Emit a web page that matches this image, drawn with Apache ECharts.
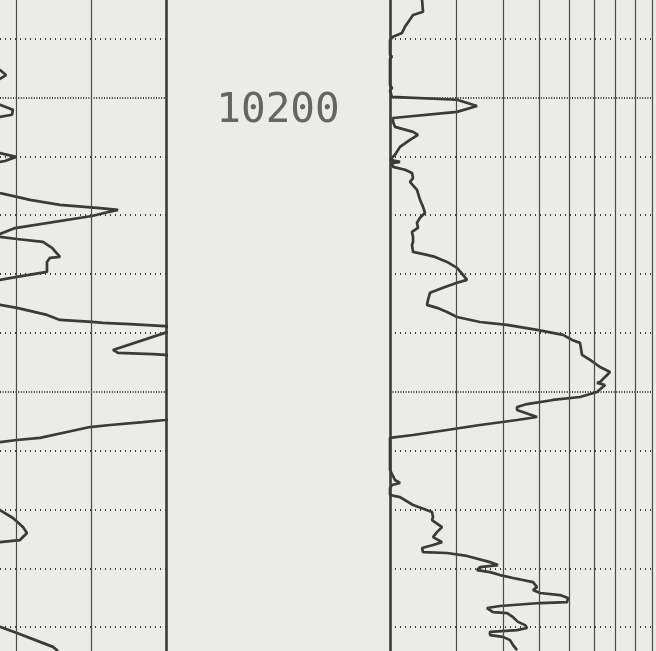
<!DOCTYPE html>
<html>
<head>
<meta charset="utf-8">
<script src="https://cdn.jsdelivr.net/npm/echarts@6/dist/echarts.min.js"></script>
<style>
  html, body { margin: 0; padding: 0; background: #ebebe8; }
  #chart { width: 656px; height: 651px; }
</style>
</head>
<body>
<div id="chart"></div>
<script>
// depth window shown (ft) and depth grid lines
const depthTop = 10196.69;
const depthBottom = 10218.81;
const lightDepths = [10198, 10202, 10204, 10206, 10208, 10212, 10214, 10216, 10218];
const heavyDepths = [10200, 10210];
const depthLabels = [10200];

// left track (linear scale, window 38.84-150) curve
const leftMin = 38.84;
const leftMax = 150;
const leftLines = [50, 100];
const leftDepth = [10196.69, 10198.93, 10199.07, 10199.24, 10199.37, 10199.54, 10200.08, 10200.25, 10200.42, 10200.59,
  10200.66, 10200.80, 10201.72, 10201.89, 10202.02, 10202.16, 10202.26, 10203.08, 10203.25, 10203.38,
  10203.48, 10203.65, 10203.76, 10203.82, 10203.92, 10204.03, 10204.44, 10204.64, 10204.69, 10204.74,
  10204.81, 10204.91, 10205.11, 10205.42, 10205.45, 10205.59, 10205.93, 10206.10, 10206.20, 10206.34,
  10206.88, 10207.05, 10207.15, 10207.39, 10207.56, 10207.63, 10207.66, 10207.70, 10207.77, 10207.87,
  10208.00, 10208.58, 10208.68, 10208.72, 10208.75, 10208.85, 10210.89, 10210.96, 10211.03, 10211.13,
  10211.20, 10211.37, 10211.57, 10211.64, 10211.71, 10211.84, 10213.85, 10214.02, 10214.29, 10214.60,
  10214.80, 10215.04, 10215.11, 10215.24, 10217.82, 10217.99, 10218.20, 10218.50, 10218.67, 10218.81];
const leftValue = [22.1, 32.1, 38.8, 42.9, 38.8, 28.8, 32.1, 38.8, 47.5, 46.9,
  38.8, 28.8, 32.1, 38.8, 49.6, 42.2, 32.1, 28.8, 38.8, 50.2,
  58.9, 79.0, 105.8, 117.9, 109.2, 100.4, 48.9, 38.8, 35.6, 38.8,
  50.2, 67.6, 73.7, 79.0, 72.3, 70.3, 70.3, 50.2, 38.8, 28.8,
  32.1, 38.8, 50.2, 70.3, 79.0, 100.4, 107.8, 125.9, 149.3, 159.4,
  149.3, 114.5, 117.9, 141.3, 149.3, 159.4, 159.4, 149.3, 134.6, 112.5,
  99.1, 83.7, 65.6, 50.2, 38.8, 28.8, 32.1, 38.8, 47.5, 54.2,
  56.9, 52.2, 38.8, 28.8, 32.1, 38.8, 50.2, 65.6, 74.3, 77.7];

// right track (log, 2-10) curve
const rightDepth = [10196.69, 10197.09, 10197.20, 10197.60, 10197.81, 10197.94, 10198.05, 10198.56, 10198.62, 10198.69,
  10199.57, 10199.68, 10199.78, 10199.98, 10200.08, 10200.29, 10200.49, 10200.70, 10200.76, 10200.83,
  10201.00, 10201.17, 10201.27, 10201.44, 10201.68, 10201.95, 10202.12, 10202.19, 10202.23, 10202.36,
  10202.46, 10202.57, 10202.74, 10202.87, 10203.14, 10203.48, 10203.72, 10203.92, 10204.09, 10204.26,
  10204.43, 10204.57, 10204.74, 10204.91, 10205.01, 10205.25, 10205.35, 10205.42, 10205.59, 10205.79,
  10206.03, 10206.20, 10206.30, 10206.47, 10206.64, 10206.88, 10207.05, 10207.15, 10207.29, 10207.46,
  10207.63, 10207.73, 10207.90, 10208.07, 10208.24, 10208.34, 10208.75, 10208.92, 10209.16, 10209.33,
  10209.67, 10209.70, 10209.77, 10210.01, 10210.18, 10210.28, 10210.42, 10210.52, 10210.62, 10210.86,
  10210.96, 10211.13, 10211.30, 10211.47, 10211.57, 10211.64, 10212.66, 10213.00, 10213.10, 10213.17,
  10213.27, 10213.51, 10213.58, 10213.85, 10214.09, 10214.26, 10214.36, 10214.60, 10214.77, 10214.94,
  10215.11, 10215.21, 10215.31, 10215.45, 10215.48, 10215.58, 10215.79, 10215.89, 10215.96, 10216.06,
  10216.13, 10216.23, 10216.33, 10216.47, 10216.64, 10216.74, 10216.84, 10216.91, 10217.01, 10217.15,
  10217.18, 10217.28, 10217.35, 10217.49, 10217.52, 10217.66, 10217.82, 10217.93, 10218.03, 10218.10,
  10218.16, 10218.27, 10218.33, 10218.44, 10218.61, 10218.78];
const rightValue = [2.435, 2.450, 2.304, 2.193, 2.153, 2.037, 2.000, 2.000, 2.025, 2.000,
  2.000, 2.025, 2.000, 2.025, 3.019, 3.413, 3.019, 2.037, 2.025, 2.037,
  2.062, 2.304, 2.375, 2.261, 2.127, 2.062, 2.000, 2.127, 2.025, 2.037,
  2.193, 2.289, 2.304, 2.261, 2.361, 2.405, 2.450, 2.480, 2.405, 2.361,
  2.375, 2.289, 2.304, 2.304, 2.289, 2.304, 2.510, 2.637, 2.839, 3.019,
  3.132, 3.210, 3.019, 2.770, 2.557, 2.526, 2.510, 2.669, 2.839, 3.019,
  3.477, 4.105, 4.935, 5.790, 6.119, 6.427, 6.507, 6.834, 7.268, 7.727,
  7.268, 7.135, 7.494, 7.135, 6.427, 5.444, 4.641, 4.365, 4.365, 4.935,
  4.365, 3.477, 2.839, 2.304, 2.000, 2.000, 2.000, 2.062, 2.127, 2.025,
  2.000, 2.000, 2.127, 2.304, 2.589, 2.605, 2.589, 2.753, 2.669, 2.605,
  2.753, 2.605, 2.435, 2.450, 2.839, 3.210, 3.697, 3.883, 3.477, 3.413,
  3.697, 3.932, 4.259, 4.815, 4.935, 4.815, 5.027, 5.684, 5.970, 5.934,
  5.027, 3.932, 3.629, 3.766, 4.105, 4.259, 4.392, 4.584, 4.641, 4.365,
  3.697, 3.697, 4.005, 4.181, 4.259, 4.365];
const logLines = [3, 4, 5, 6, 7, 8, 9, 10];

const ink = '#3a3a36';
const gridInk = '#4a4a46';

function zip(xs, ys) {
  return xs.map((x, i) => [x, ys[i]]);
}

function depthMarks() {
  let data = lightDepths.map(d => ({ yAxis: d }));
  heavyDepths.forEach(d => {
    data.push({ yAxis: d, lineStyle: { type: [1, 1.6], width: 2, color: '#3a3a36' } });
  });
  return data;
}

function verticalMarks(values) {
  return values.map(v => ({
    xAxis: v, lineStyle: { type: 'solid', width: 1.2, color: gridInk }
  }));
}

const chart = echarts.init(document.getElementById('chart'));

const depthAxis = {
  type: 'value',
  inverse: true,
  min: depthTop,
  max: depthBottom,
  axisLabel: { show: false },
  axisTick: { show: false },
  splitLine: { show: false }
};

const hiddenX = {
  axisLine: { show: false }, axisTick: { show: false }, axisLabel: { show: false },
  splitLine: { show: false }
};

let option = {
  backgroundColor: '#ebebe8',
  animation: false,
  grid: [
    { left: 0, right: 490, top: 0, bottom: 0 },
    { left: 166, right: 266, top: 0, bottom: 0 },
    { left: 390, right: 4, top: 0, bottom: 0 }
  ],
  xAxis: [
    Object.assign({ gridIndex: 0, type: 'value', min: leftMin, max: leftMax }, hiddenX),
    { gridIndex: 1, type: 'value', min: 0, max: 1, show: false },
    Object.assign({ gridIndex: 2, type: 'log', logBase: 10, min: 2, max: 10 }, hiddenX)
  ],
  yAxis: [
    Object.assign({ gridIndex: 0, position: 'right',
      axisLine: { show: true, lineStyle: { color: ink, width: 2.6 } } }, depthAxis),
    Object.assign({ gridIndex: 1, show: false }, depthAxis),
    Object.assign({ gridIndex: 2, position: 'left',
      axisLine: { show: true, lineStyle: { color: ink, width: 2.6 } } }, depthAxis)
  ],
  series: [
    {
      name: 'left',
      type: 'line',
      xAxisIndex: 0, yAxisIndex: 0,
      data: zip(leftValue, leftDepth),
      showSymbol: false,
      clip: true,
      lineStyle: { color: ink, width: 2.7 },
      markLine: {
        silent: true, symbol: ['none', 'none'], label: { show: false },
        lineStyle: { type: [1, 4], width: 2, color: '#3a3a36' },
        data: depthMarks().concat(verticalMarks(leftLines))
      }
    },
    {
      name: 'depth',
      type: 'scatter',
      xAxisIndex: 1, yAxisIndex: 1,
      data: depthLabels.map(d => [0.5, d]),
      symbolSize: 0,
      label: {
        show: true, position: 'inside', offset: [0, 14],
        formatter: p => String(p.value[1]),
        fontFamily: 'DejaVu Sans Mono', fontSize: 41, color: '#444441'
      }
    },
    {
      name: 'right',
      type: 'line',
      xAxisIndex: 2, yAxisIndex: 2,
      data: zip(rightValue, rightDepth),
      showSymbol: false,
      clip: true,
      lineStyle: { color: ink, width: 2.7 },
      markLine: {
        silent: true, symbol: ['none', 'none'], label: { show: false },
        lineStyle: { type: [1, 4], width: 2, color: '#3a3a36' },
        data: depthMarks().concat(verticalMarks(logLines))
      }
    }
  ]
};

chart.setOption(option);
</script>
</body>
</html>
